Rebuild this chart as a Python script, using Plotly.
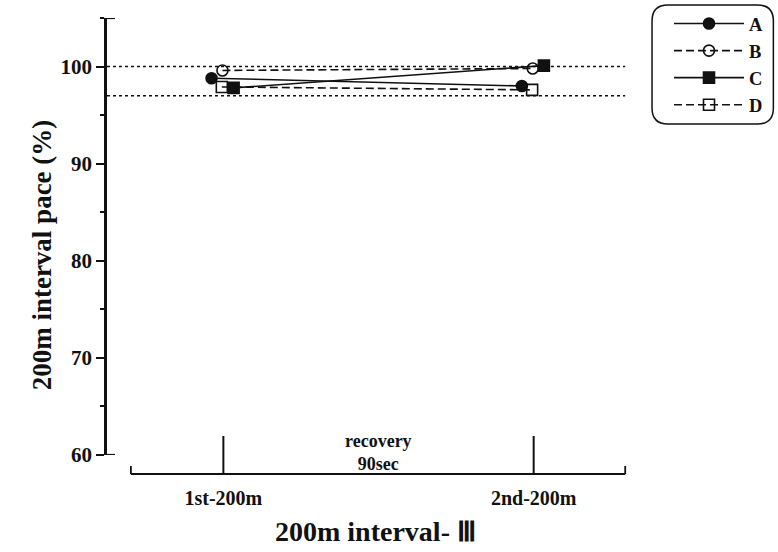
import plotly.graph_objects as go

# Pace (% of best) for each subject over the two 200 m reps
stages = ["1st-200m", "2nd-200m"]
subjects = ["A", "B", "C", "D"]
pace_A = [98.8, 98.0]
pace_B = [99.6, 99.8]
pace_C = [97.8, 100.1]
pace_D = [97.9, 97.6]
y_ticks = [60, 70, 80, 90, 100]
band_levels = [97, 100]
recovery_note = "recovery<br>90sec"

W, H = 778, 552
ML, MR, MT, MB = 107, 118, 18, 97
PW, PH = W - ML - MR, H - MT - MB

FONT = "Liberation Serif"
INK = "#111111"

# marker styling per subject; small horizontal nudge keeps markers apart
styles = {
    "A": dict(symbol="circle", dash="solid", nudge=-0.038),
    "B": dict(symbol="circle-open", dash="8px,4px", nudge=-0.003),
    "C": dict(symbol="square", dash="solid", nudge=0.033),
    "D": dict(symbol="square-open", dash="8px,4px", nudge=-0.005),
}
values = {"A": pace_A, "B": pace_B, "C": pace_C, "D": pace_D}

fig = go.Figure()
for name in subjects:
    st = styles[name]
    xs = [i + 1 + st["nudge"] for i in range(len(stages))]
    fig.add_trace(go.Scatter(
        x=xs, y=values[name], name=name, mode="lines+markers",
        line=dict(color=INK, width=1.6, dash=st["dash"]),
        marker=dict(symbol=st["symbol"], size=11, color=INK,
                    line=dict(color=INK, width=1.6)),
    ))

shapes = []
# dotted reference band
for lvl in band_levels:
    shapes.append(dict(type="line", xref="paper", yref="y", x0=0,
                       x1=(628 - ML) / PW, y0=lvl, y1=lvl,
                       line=dict(color=INK, width=1.5, dash="3px,3px")))

# small end ticks on the pace axis
for yv in (60, 105):
    shapes.append(dict(type="line", xref="paper", yref="y", x0=0, x1=8 / PW,
                       y0=yv, y1=yv, line=dict(color=INK, width=2.2)))

# time bracket below the plot
yb = -(474 - 455) / PH
yt = (455 - 436) / PH
ye = -(466 - 455) / PH
x_left, x_right = 0.702, 2.295
shapes.append(dict(type="line", xref="x", yref="paper", x0=x_left, x1=x_right,
                   y0=yb, y1=yb, line=dict(color=INK, width=1.8)))
for xe in (x_left, x_right):
    shapes.append(dict(type="line", xref="x", yref="paper", x0=xe, x1=xe,
                       y0=yb, y1=ye, line=dict(color=INK, width=1.8)))
for xs_ in (1, 2):
    shapes.append(dict(type="line", xref="x", yref="paper", x0=xs_, x1=xs_,
                       y0=yb, y1=yt, line=dict(color=INK, width=2)))

# rounded legend frame
lx0, lx1 = (655 - ML) / PW, (777 - ML) / PW
ly0, ly1 = (455 - 124) / PH, (455 - 5) / PH
rx, ry = 16 / PW, 16 / PH
path = (f"M{lx0 + rx},{ly1} L{lx1 - rx},{ly1} Q{lx1},{ly1} {lx1},{ly1 - ry} "
        f"L{lx1},{ly0 + ry} Q{lx1},{ly0} {lx1 - rx},{ly0} "
        f"L{lx0 + rx},{ly0} Q{lx0},{ly0} {lx0},{ly0 + ry} "
        f"L{lx0},{ly1 - ry} Q{lx0},{ly1} {lx0 + rx},{ly1} Z")
shapes.append(dict(type="path", xref="paper", yref="paper", path=path,
                   line=dict(color=INK, width=1.5)))

annotations = [
    dict(text=recovery_note, x=1.5, xref="x", y=(455 - 452) / PH, yref="paper",
         showarrow=False, yanchor="middle",
         font=dict(family=FONT, size=18, color=INK, weight="bold")),
    dict(text="200m interval- Ⅲ", x=1.49, xref="x", y=-(531 - 455) / PH,
         yref="paper", showarrow=False, yanchor="middle",
         font=dict(family=FONT, size=28, color=INK, weight="bold")),
    dict(text="200m interval pace (%)", x=(42 - ML) / PW, xref="paper",
         y=(455 - 255) / PH, yref="paper", showarrow=False, textangle=-90,
         xanchor="center", yanchor="middle",
         font=dict(family=FONT, size=27, color=INK, weight="bold")),
]

fig.update_layout(
    width=W, height=H,
    margin=dict(l=ML, r=MR, t=MT, b=MB, pad=0),
    paper_bgcolor="white", plot_bgcolor="white",
    showlegend=True,
    legend=dict(xref="container", yref="container", x=669 / W, y=1 - 5 / H,
                xanchor="left", yanchor="top", bgcolor="rgba(0,0,0,0)",
                borderwidth=0, itemwidth=70,
                font=dict(family=FONT, size=18.5, color=INK, weight="bold")),
    shapes=shapes, annotations=annotations,
    xaxis=dict(range=[0.625, 0.625 + PW / 312], tickvals=[1, 2],
               ticktext=stages, showline=False, showgrid=False, zeroline=False,
               ticks="", ticklabelstandoff=29,
               tickfont=dict(family=FONT, size=20, color=INK, weight="bold")),
    yaxis=dict(range=[60, 105], tickvals=y_ticks, showline=True,
               linecolor=INK, linewidth=2.6, ticks="outside", ticklen=8,
               tickwidth=2.2, tickcolor=INK, showgrid=False, zeroline=False,
               minor=dict(dtick=5, ticks="outside", ticklen=4, tickwidth=1.8,
                          tickcolor=INK, showgrid=False),
               tickfont=dict(family=FONT, size=21, color=INK, weight="bold")),
)

fig.write_html("out.html")
